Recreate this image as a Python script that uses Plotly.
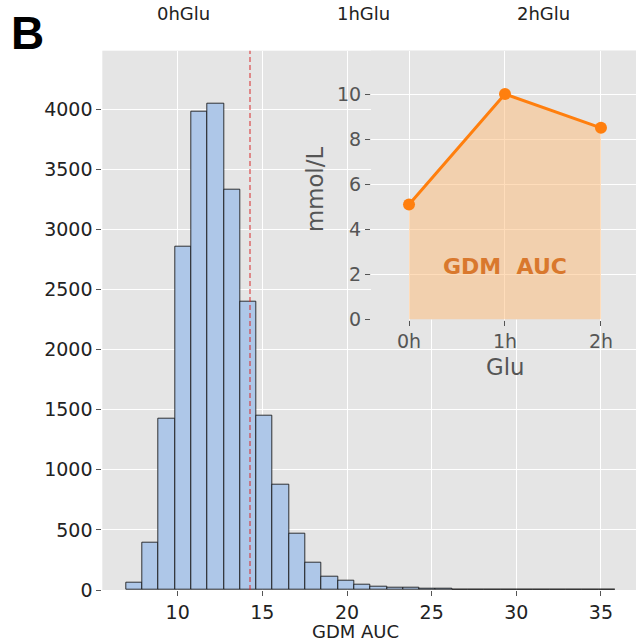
import numpy as np
import plotly.graph_objects as go

# ---- GDM AUC distribution (30 equal-width bins) ----
bin_start = 6.946
bin_width = 0.963
counts = [60, 392, 1425, 2860, 3978, 4047, 3333, 2400, 1450, 878,
          466, 230, 111, 77, 43, 30, 22, 18, 13, 9,
          6, 4, 3, 2, 2, 1, 1, 0, 1, 1]
cutoff = 14.27

# ---- glucose curve for the inset ----
time_labels = ["0h", "1h", "2h"]
glucose = [5.1, 10.0, 8.5]
top_labels = ["0hGlu", "1hGlu", "2hGlu"]

W, H = 636, 643
FONT = "DejaVu Sans"


def fx(px):
    return px / W


def fy(px):
    return 1 - px / H


centers = bin_start + bin_width * (np.arange(len(counts)) + 0.5)

fig = go.Figure()

fig.add_trace(go.Bar(
    x=centers, y=counts, width=bin_width,
    marker=dict(color="#aec7e8", line=dict(color="rgba(20,20,20,0.85)", width=1)),
    xaxis="x", yaxis="y", showlegend=False,
))

fig.add_trace(go.Scatter(
    x=time_labels, y=glucose, mode="lines+markers",
    line=dict(color="#ff7f0e", width=3),
    marker=dict(color="#ff7f0e", size=12),
    fill="tozeroy", fillcolor="rgba(255,187,120,0.5)",
    xaxis="x2", yaxis="y2", showlegend=False,
))

fig.add_shape(type="line", xref="x", yref="y domain",
              x0=cutoff, x1=cutoff, y0=0, y1=1,
              line=dict(color="rgba(214,39,40,0.62)", width=1.6, dash="5px,3px"))

grid = dict(showgrid=True, gridcolor="white", gridwidth=1.2, zeroline=False,
            showline=False, ticks="outside", ticklen=5, tickcolor="#555",
            automargin=False)

fig.update_layout(
    template="none",
    width=W, height=H,
    margin=dict(l=0, r=0, t=0, b=0, autoexpand=False),
    paper_bgcolor="white", plot_bgcolor="#e5e5e5",
    font=dict(family=FONT, color="#222"),
    bargap=0,
    xaxis=dict(domain=[fx(102.3), 1], range=[5.546, 37.07], anchor="y",
               tickvals=[10, 15, 20, 25, 30, 35], tickfont=dict(size=19, color="#222"),
               **grid),
    yaxis=dict(domain=[fy(590), fy(50.7)], range=[0, 4487], anchor="x",
               tickvals=list(range(0, 4001, 500)), tickfont=dict(size=19, color="#222"),
               **grid),
    xaxis2=dict(domain=[fx(371), 1], range=[-0.396, 2.365], anchor="y2",
                type="category", tickfont=dict(size=19, color="#555"), **grid),
    yaxis2=dict(domain=[fy(319.5), fy(50.7)], range=[0, 11.92], anchor="x2",
                tickvals=[0, 2, 4, 6, 8, 10], tickfont=dict(size=19, color="#555"),
                **grid),
)

annotations = [
    dict(text="B", x=fx(28), y=fy(33), font=dict(family="Liberation Sans", size=46,
                                                  color="black", weight="bold")),
    dict(text="GDM AUC", x=fx(355), y=fy(631), font=dict(size=18, color="#222")),
    dict(text="mmol/L", x=fx(315), y=fy(190), textangle=-90,
         font=dict(size=22.8, color="#555")),
    dict(text="Glu", x=fx(505), y=fy(367), font=dict(size=22.8, color="#555")),
]
for lbl, px in zip(top_labels, [183, 363, 543]):
    annotations.append(dict(text=lbl, x=fx(px), y=fy(14), font=dict(size=18, color="#222")))

for a in annotations:
    a.update(xref="paper", yref="paper", showarrow=False,
             xanchor="center", yanchor="middle")
    a.setdefault("font", {})
    a["font"].setdefault("family", FONT)

annotations.append(dict(text="GDM\u00a0\u00a0AUC", x=1, y=2.35, xref="x2", yref="y2",
                        showarrow=False, xanchor="center", yanchor="middle",
                        font=dict(family=FONT, size=22, color="#d9782d", weight="bold")))

fig.update_layout(annotations=annotations)

fig.write_html("out.html")
